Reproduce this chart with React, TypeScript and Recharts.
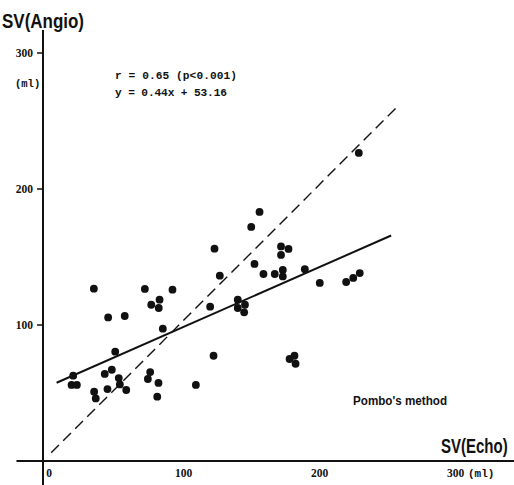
import { ScatterChart, Scatter, XAxis, YAxis, ReferenceLine, Customized } from "recharts";

// SV by echo (x) vs SV by angio (y), ml
const echoX = [
  37.4, 74.9, 95.2, 85.7, 79.6, 85.1, 47.9, 60.1, 88.1, 53.1,
  22.2, 21.0, 24.9, 50.6, 45.4, 55.7, 56.5, 47.4, 61.2, 37.6,
  38.8, 78.8, 77.1, 84.9, 84.0, 126.1, 130.0, 122.9, 125.4, 112.4,
  159.2, 153.1, 175.0, 180.5, 175.0, 155.5, 162.1, 170.4, 176.3, 176.3,
  192.5, 143.2, 148.5, 143.2, 147.9, 203.5, 222.9, 228.1, 232.9, 181.3,
  184.9, 185.7, 232.2,
];
const angioY = [
  126.7, 126.5, 126.0, 118.6, 114.9, 112.5, 105.6, 106.6, 97.3, 80.4,
  62.7, 55.9, 55.9, 67.1, 64.0, 61.0, 56.3, 52.9, 52.2, 51.0,
  46.0, 65.4, 60.3, 57.4, 47.3, 156.1, 136.3, 113.5, 77.4, 55.9,
  183.1, 172.1, 157.8, 155.9, 151.5, 144.9, 137.5, 137.5, 140.5, 135.7,
  141.0, 118.6, 114.9, 112.5, 109.3, 130.9, 131.6, 134.6, 138.2, 75.0,
  77.4, 71.5, 226.5,
];

const slope = 0.44;
const intercept = 53.16;
const fitRange = [10, 256];
const identityRange = [6, 262];

const xTicks = [0, 100, 200, 300];
const yTicks = [100, 200, 300];

const points = echoX.map((x, i) => ({ x, y: angioY[i] }));

const numFont = "'Liberation Serif', serif";
const monoFont = "'Liberation Mono', monospace";
const headFont = "'Liberation Sans', Arial, sans-serif";

const Dot = (p: any) => <circle cx={p.cx} cy={p.cy} r={3.9} fill="#111" />;

const XTick = ({ x, y, payload }: any) => (
  <g>
    <text x={x + (payload.value === 0 ? 6 : 4.5)} y={y} dy="0.71em" textAnchor="middle"
      fontFamily={numFont} fontWeight="bold" fontSize={11.5} fill="#111">
      {payload.value}
    </text>
    {payload.value === 300 && (
      <text x={x + 17} y={y} dy="0.71em" fontFamily={monoFont} fontWeight="bold" fontSize={11} fill="#111">
        (ml)
      </text>
    )}
  </g>
);

const YTick = ({ x, y, payload }: any) => (
  <text x={x - 2} y={y} dy="0.36em" textAnchor="end"
    fontFamily={numFont} fontWeight="bold" fontSize={11.5} fill="#111">
    {payload.value}
  </text>
);

const Labels = () => (
  <g fill="#111" fontWeight="bold">
    <text x={2} y={28} fontFamily={headFont} fontSize={21} textLength={82} lengthAdjust="spacingAndGlyphs">
      SV(Angio)
    </text>
    <text x={15} y={87} fontFamily={monoFont} fontSize={10.5}>(ml)</text>
    <text x={115} y={79} fontFamily={monoFont} fontSize={11.2} textLength={122} lengthAdjust="spacing">
      r = 0.65 (p&lt;0.001)
    </text>
    <text x={115} y={96} fontFamily={monoFont} fontSize={11.2} textLength={112} lengthAdjust="spacing">
      y = 0.44x + 53.16
    </text>
    <text x={353} y={405} fontFamily={headFont} fontSize={13} textLength={94} lengthAdjust="spacingAndGlyphs">
      Pombo's method
    </text>
    <text transform="translate(441,453) scale(0.77,1)" fontFamily={headFont} fontSize={19.5}>
      SV(Echo)
    </text>
  </g>
);

export default function App() {
  return (
    <div style={{ position: "absolute", left: 0, top: 0, background: "#fff" }}>
      <ScatterChart width={514} height={485} margin={{ top: 30, right: 0, bottom: 0, left: 0 }}>
        <XAxis type="number" dataKey="x" domain={[0, 346.3]} ticks={xTicks} height={24}
          axisLine={{ stroke: "#111", strokeWidth: 2 }} tickLine={false} tick={<XTick />} />
        <YAxis type="number" dataKey="y" domain={[0, 316.9]} ticks={yTicks} width={43}
          axisLine={{ stroke: "#111", strokeWidth: 2 }} tickLine={{ stroke: "#111", strokeWidth: 1.5 }}
          tickSize={6} tick={<YTick />} />
        <ReferenceLine segment={[{ x: -19.5, y: 0 }, { x: 0, y: 0 }]} ifOverflow="visible" stroke="#111" strokeWidth={2} />
        <ReferenceLine segment={[{ x: 0, y: -18 }, { x: 0, y: 0 }]} ifOverflow="visible" stroke="#111" strokeWidth={2} />
        <ReferenceLine
          segment={[{ x: identityRange[0], y: identityRange[0] }, { x: identityRange[1], y: identityRange[1] }]}
          ifOverflow="visible" stroke="#111" strokeWidth={1.4} strokeDasharray="11 6" />
        <ReferenceLine
          segment={[
            { x: fitRange[0], y: slope * fitRange[0] + intercept },
            { x: fitRange[1], y: slope * fitRange[1] + intercept },
          ]}
          ifOverflow="visible" stroke="#111" strokeWidth={2} />
        <Scatter data={points} shape={<Dot />} isAnimationActive={false} />
        <Customized component={<Labels />} />
      </ScatterChart>
    </div>
  );
}
